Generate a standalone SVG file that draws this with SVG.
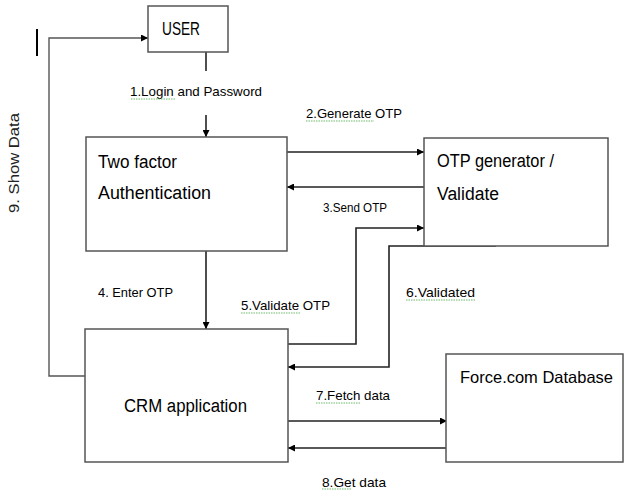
<svg xmlns="http://www.w3.org/2000/svg" width="625" height="490" viewBox="0 0 625 490">
<style>
.box{fill:#fff;stroke:#555;stroke-width:1.5}
.ln{fill:none;stroke:#222;stroke-width:1.6}
.lg{fill:none;stroke:#555;stroke-width:1.4}
.t{font-family:"Liberation Sans",Arial,sans-serif;fill:#000}
.big{font-size:18px}
.sm{font-size:13.5px}
.sq{fill:none;stroke:#4a4;stroke-width:0.8;stroke-dasharray:1.5 1}
</style>
<defs>
<marker id="ah" viewBox="0 0 10 10" refX="10" refY="5" markerWidth="7" markerHeight="7" markerUnits="userSpaceOnUse" orient="auto">
<path d="M0,0 L10,5 L0,10 z" fill="#000"/>
</marker>
</defs>
<rect width="625" height="490" fill="#fff"/>
<g id="connectors">
<path class="ln" d="M206,52 V71"/>
<path class="ln" d="M206,115 V137" marker-end="url(#ah)"/>
<path class="ln" d="M287,152 H424" marker-end="url(#ah)"/>
<path class="ln" d="M424,187 H287" marker-end="url(#ah)"/>
<path class="ln" d="M206,251 V329" marker-end="url(#ah)"/>
<path class="ln" d="M288,344 H356 V228 H424" marker-end="url(#ah)"/>
<path class="ln" d="M496,246 H389 V367 H288" marker-end="url(#ah)"/>
<path class="ln" d="M288,421 H447" marker-end="url(#ah)"/>
<path class="ln" d="M447,448 H288" marker-end="url(#ah)"/>
<path class="lg" d="M85,376 H49 V38 H148" marker-end="url(#ah)"/>
<path d="M37,29 V56" stroke="#000" stroke-width="2"/>
</g>
<g id="user">
<rect class="box" x="148" y="6" width="80" height="46"/>
<text class="t big" x="162" y="35" textLength="38" lengthAdjust="spacingAndGlyphs">USER</text>
</g>
<g id="two-factor">
<rect class="box" x="86" y="137" width="201" height="114"/>
<text class="t big" x="98" y="168" textLength="79" lengthAdjust="spacingAndGlyphs">Two factor</text>
<text class="t big" x="98" y="199" textLength="113" lengthAdjust="spacingAndGlyphs">Authentication</text>
</g>
<g id="otp">
<rect class="box" x="424" y="138" width="184" height="108"/>
<text class="t big" x="437" y="167" textLength="117" lengthAdjust="spacingAndGlyphs">OTP generator /</text>
<text class="t big" x="437" y="200" textLength="62" lengthAdjust="spacingAndGlyphs">Validate</text>
</g>
<g id="crm">
<rect class="box" x="85" y="329" width="203" height="133"/>
<text class="t big" x="124" y="412" textLength="123" lengthAdjust="spacingAndGlyphs">CRM application</text>
</g>
<g id="db">
<rect class="box" x="446" y="354" width="177" height="108"/>
<text class="t" font-size="16.5" x="460" y="383" textLength="153" lengthAdjust="spacingAndGlyphs">Force.com Database</text>
</g>
<g id="labels">
<text class="t sm" x="130" y="96" textLength="132" lengthAdjust="spacingAndGlyphs">1.Login and Password</text>
<path class="sq" d="M131,99 H176"/>
<text class="t sm" x="306" y="118" textLength="96" lengthAdjust="spacingAndGlyphs">2.Generate OTP</text>
<path class="sq" d="M306,121 H374"/>
<text class="t sm" x="323" y="212" textLength="64" lengthAdjust="spacingAndGlyphs">3.Send OTP</text>
<text class="t sm" x="98" y="297" textLength="75" lengthAdjust="spacingAndGlyphs">4. Enter OTP</text>
<text class="t sm" x="241" y="310" textLength="89" lengthAdjust="spacingAndGlyphs">5.Validate OTP</text>
<path class="sq" d="M241,313 H301"/>
<text class="t sm" x="406" y="297" textLength="69" lengthAdjust="spacingAndGlyphs">6.Validated</text>
<path class="sq" d="M406,300 H475"/>
<text class="t sm" x="316" y="400" textLength="74" lengthAdjust="spacingAndGlyphs">7.Fetch data</text>
<path class="sq" d="M316,403 H360"/>
<text class="t sm" x="322" y="487" textLength="64" lengthAdjust="spacingAndGlyphs">8.Get data</text>
<path class="sq" d="M322,489 H352"/>
<text font-family="Liberation Sans, Arial, sans-serif" font-size="14.5" fill="#222" transform="translate(19,213) rotate(-90)" textLength="100" lengthAdjust="spacingAndGlyphs">9. Show Data</text>
</g>
</svg>
